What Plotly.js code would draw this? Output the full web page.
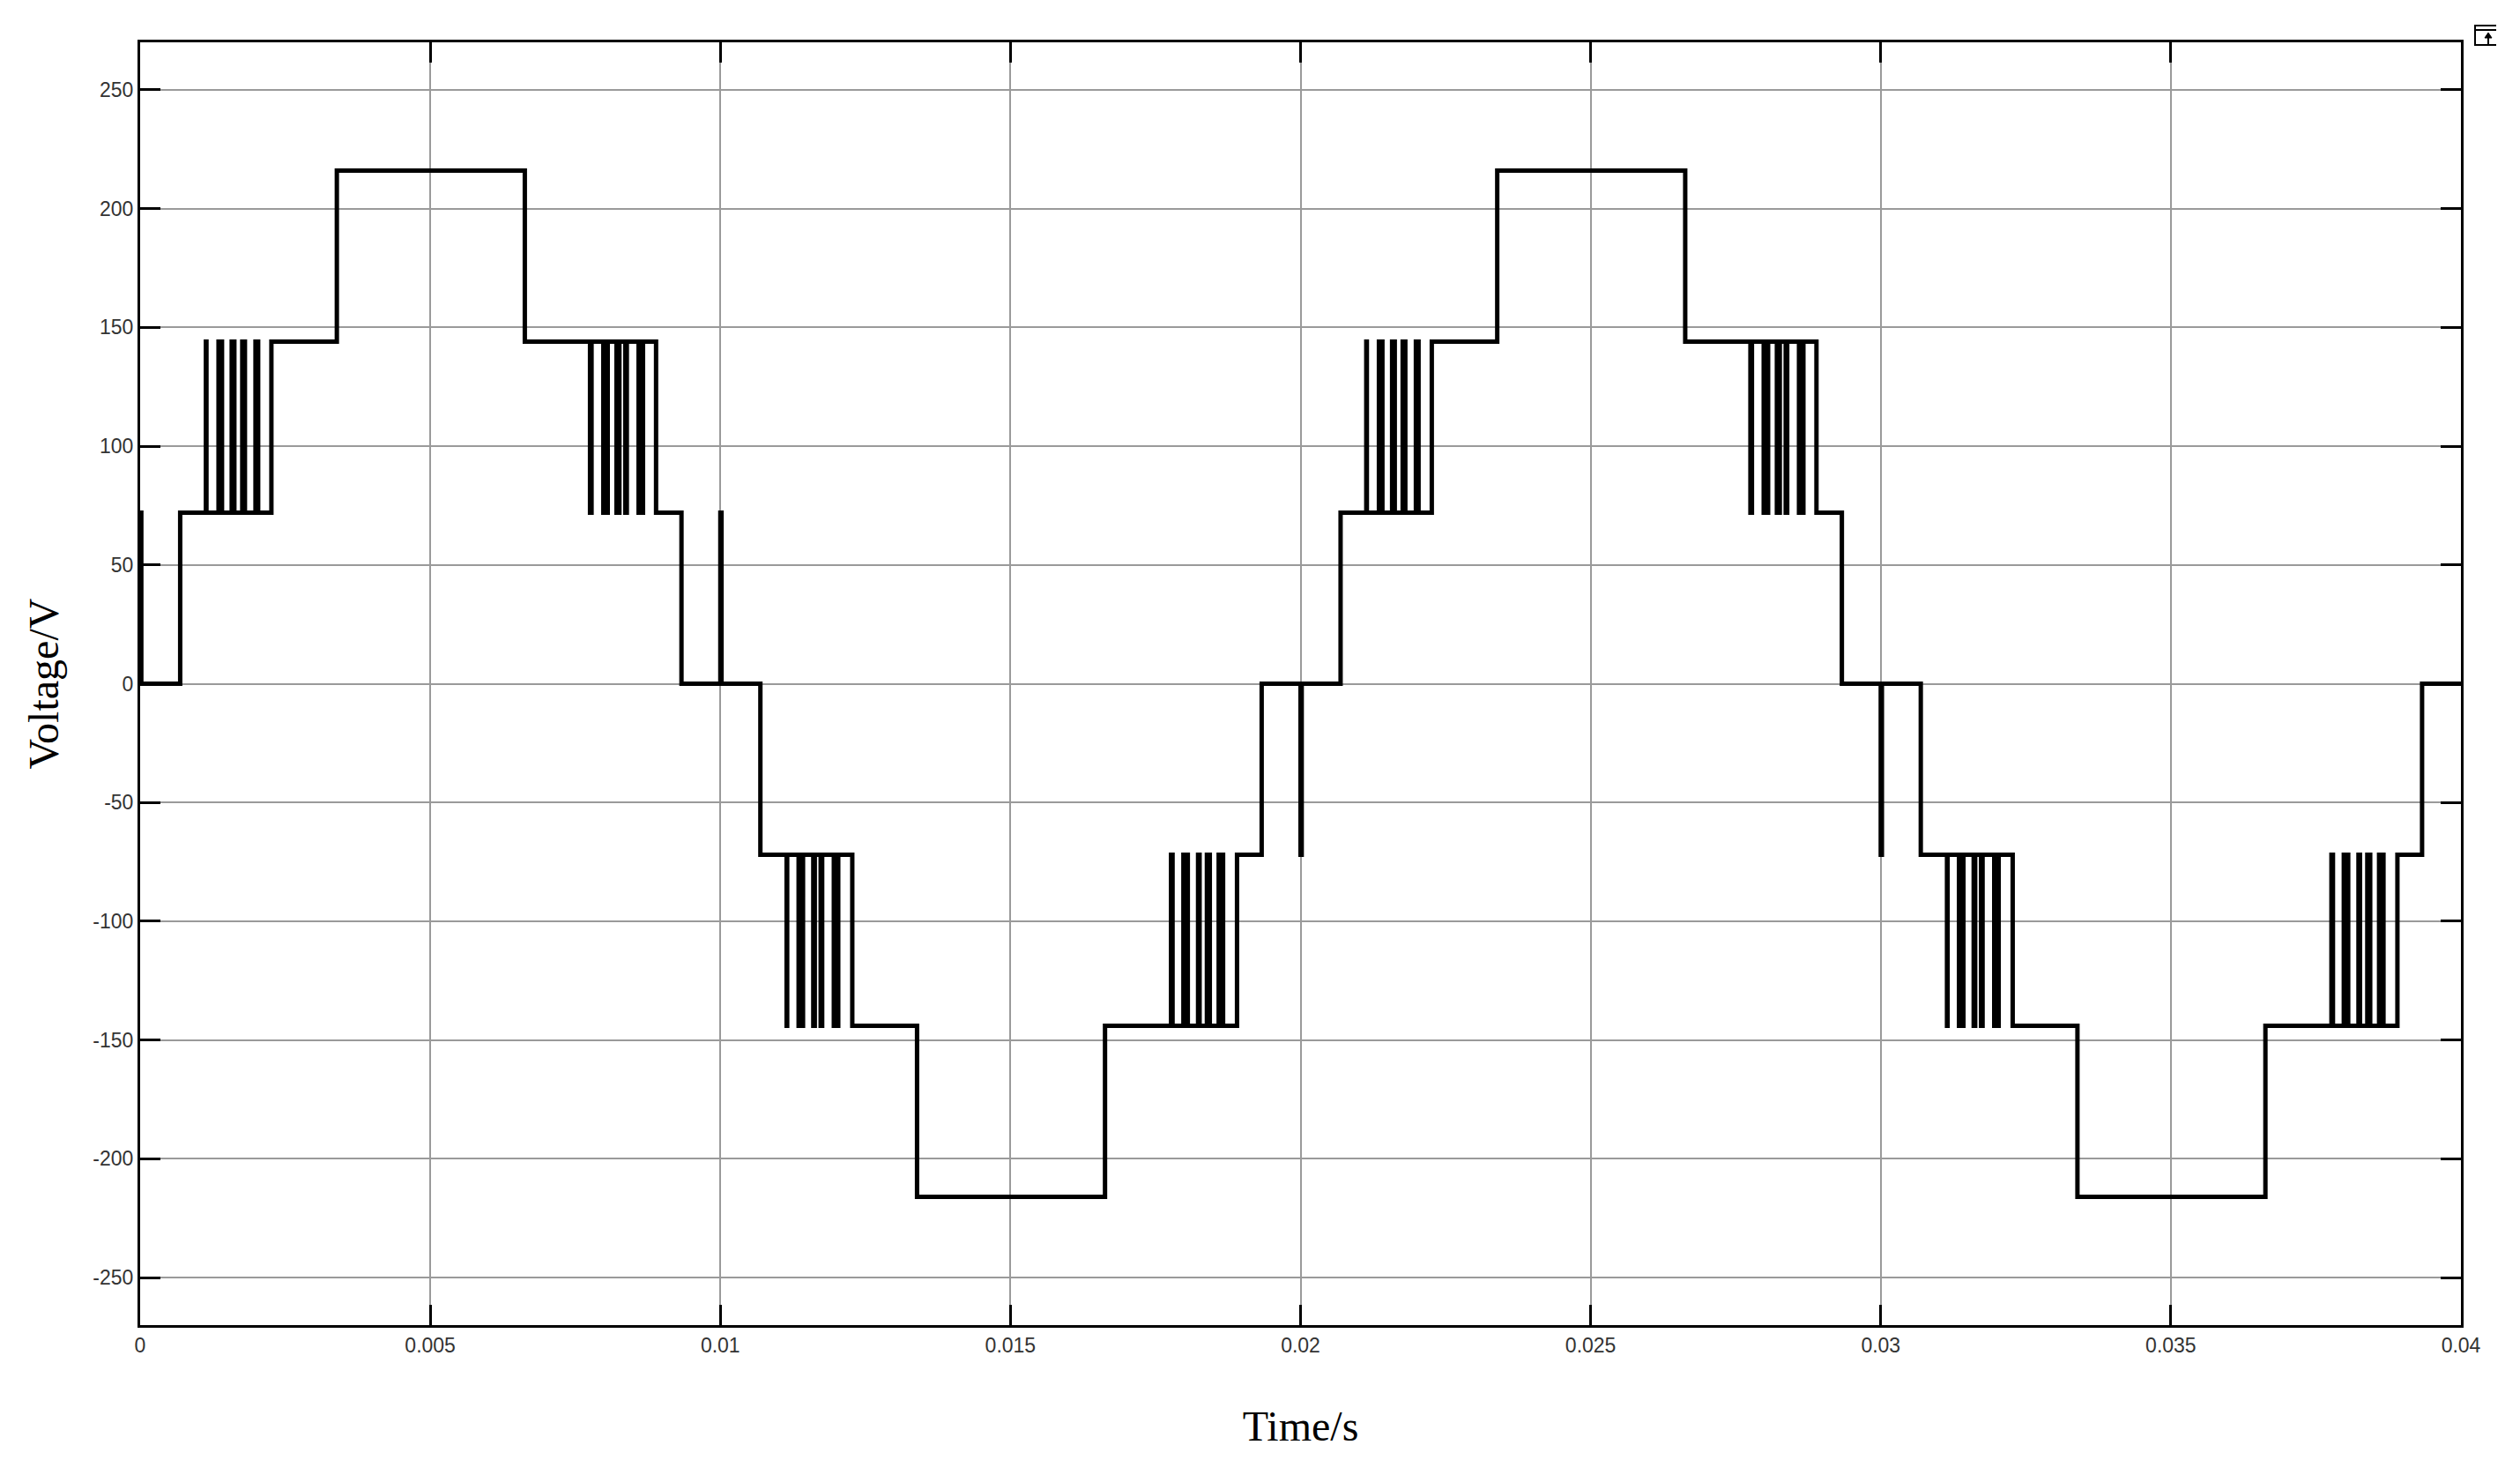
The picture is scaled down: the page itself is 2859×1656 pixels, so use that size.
<!DOCTYPE html>
<html>
<head>
<meta charset="utf-8">
<script src="https://cdn.plot.ly/plotly-3.0.1.min.js"></script>
<style>
  html, body { margin: 0; padding: 0; background: #ffffff; }
  #chart { width: 2859px; height: 1656px; }
</style>
</head>
<body>
<div id="chart"></div>
<script>
// Switching instants (s) of the inverter output
const switchTimes = [
  0, 0, 0.00002, 0.00069,
  0.001133, 0.001143, 0.001351, 0.001411, 0.001578, 0.001624, 0.00176, 0.001806, 0.001988, 0.002034, 0.002262,
  0.00339, 0.00663,
  0.007754, 0.00778, 0.007983, 0.008059, 0.00821, 0.00826, 0.008362, 0.008388, 0.008591, 0.008667, 0.008892,
  0.00933, 0.01, 0.01002, 0.01069,
  0.011142, 0.011152, 0.011349, 0.011425, 0.011602, 0.011628, 0.011729, 0.011755, 0.011956, 0.012032, 0.012274,
  0.01339, 0.01663,
  0.017768, 0.017794, 0.017981, 0.018057, 0.018234, 0.01826, 0.018386, 0.018436, 0.018589, 0.018665, 0.018905,
  0.01933, 0.02, 0.02002, 0.02069,
  0.021133, 0.021143, 0.021351, 0.021411, 0.021578, 0.021624, 0.02176, 0.021806, 0.021988, 0.022034, 0.022262,
  0.02339, 0.02663,
  0.027754, 0.02778, 0.027983, 0.028059, 0.02821, 0.02826, 0.028362, 0.028388, 0.028591, 0.028667, 0.028892,
  0.02933, 0.03, 0.03002, 0.03069,
  0.031142, 0.031152, 0.031349, 0.031425, 0.031602, 0.031628, 0.031729, 0.031755, 0.031956, 0.032032, 0.032274,
  0.03339, 0.03663,
  0.037768, 0.037794, 0.037981, 0.038057, 0.038234, 0.03826, 0.038386, 0.038436, 0.038589, 0.038665, 0.038905,
  0.03933, 0.04
];

// Output voltage level (V) held from each switching instant
const voltageLevels = [
  0, 72, 0, 72,
  144, 72, 144, 72, 144, 72, 144, 72, 144, 72, 144,
  216, 144,
  72, 144, 72, 144, 72, 144, 72, 144, 72, 144, 72,
  0, 72, 0, -72,
  -144, -72, -144, -72, -144, -72, -144, -72, -144, -72, -144,
  -216, -144,
  -72, -144, -72, -144, -72, -144, -72, -144, -72, -144, -72,
  0, -72, 0, 72,
  144, 72, 144, 72, 144, 72, 144, 72, 144, 72, 144,
  216, 144,
  72, 144, 72, 144, 72, 144, 72, 144, 72, 144, 72,
  0, -72, 0, -72,
  -144, -72, -144, -72, -144, -72, -144, -72, -144, -72, -144,
  -216, -144,
  -72, -144, -72, -144, -72, -144, -72, -144, -72, -144, -72,
  0, 0
];

const xTickVals = [0, 0.005, 0.01, 0.015, 0.02, 0.025, 0.03, 0.035, 0.04];
const xTickText = ['0', '0.005', '0.01', '0.015', '0.02', '0.025', '0.03', '0.035', '0.04'];
const yTickVals = [-250, -200, -150, -100, -50, 0, 50, 100, 150, 200, 250];
const yTickText = ['-250', '-200', '-150', '-100', '-50', '0', '50', '100', '150', '200', '250'];

const trace = {
  x: switchTimes,
  y: voltageLevels,
  type: 'scatter',
  mode: 'lines',
  line: { shape: 'hv', color: '#000000', width: 5, simplify: false },
  hoverinfo: 'skip',
  showlegend: false
};

const tickFont = { family: 'Liberation Sans, Arial, sans-serif', size: 23, color: '#333333' };
const titleFont = { family: 'Liberation Serif, Times New Roman, serif', size: 48, color: '#000000' };

const axisCommon = {
  showgrid: true,
  gridcolor: '#9a9a9a',
  gridwidth: 2,
  zeroline: false,
  showline: true,
  linecolor: '#000000',
  linewidth: 3,
  mirror: 'ticks',
  ticks: 'inside',
  ticklen: 23,
  tickwidth: 3,
  tickcolor: '#000000',
  tickfont: tickFont,
  automargin: false
};

// paper-coordinate helpers for the small scope icon (decoration only)
const L = 159, R = 2792, T = 48, B = 1503;
const px = v => (v - L) / (R - L);
const py = v => (B - v) / (B - T);
const iconLine = (x0, y0, x1, y1) => ({
  type: 'line', xref: 'paper', yref: 'paper',
  x0: px(x0), y0: py(y0), x1: px(x1), y1: py(y1),
  line: { color: '#000000', width: 2 }
});
const shapes = [
  iconLine(2807, 29, 2832, 29),
  iconLine(2807, 34, 2832, 34),
  iconLine(2808, 28, 2808, 52),
  iconLine(2807, 51, 2832, 51),
  iconLine(2823, 40, 2823, 51),
  {
    type: 'path', xref: 'paper', yref: 'paper',
    path: 'M ' + px(2819) + ' ' + py(43) + ' L ' + px(2827) + ' ' + py(43) + ' L ' + px(2823) + ' ' + py(37) + ' Z',
    fillcolor: '#000000', line: { color: '#000000', width: 1 }
  }
];

const layout = {
  width: 2859,
  height: 1656,
  margin: { l: L, r: 2859 - R, t: T, b: 1656 - B, pad: 0 },
  paper_bgcolor: '#ffffff',
  plot_bgcolor: '#ffffff',
  showlegend: false,
  xaxis: Object.assign({}, axisCommon, {
    range: [0, 0.04],
    tickmode: 'array',
    tickvals: xTickVals,
    ticktext: xTickText,
    title: { text: 'Time/s', font: titleFont, standoff: 63 }
  }),
  yaxis: Object.assign({}, axisCommon, {
    range: [-270, 270],
    tickmode: 'array',
    tickvals: yTickVals,
    ticktext: yTickText,
    title: { text: 'Voltage/V', font: titleFont, standoff: 24 }
  }),
  shapes: shapes
};

Plotly.newPlot('chart', [trace], layout, { displayModeBar: false, staticPlot: true });
</script>
</body>
</html>
